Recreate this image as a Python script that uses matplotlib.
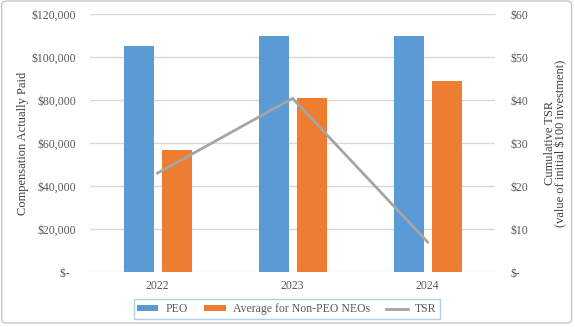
import matplotlib
matplotlib.use("Agg")
import matplotlib.pyplot as plt
from matplotlib.patches import FancyBboxPatch
import numpy as np

years = ["2022", "2023", "2024"]
peo = [105000, 110000, 110000]
neo = [57000, 81000, 89000]
tsr = [23.0, 40.4, 7.0]
left_ticks = [0, 20000, 40000, 60000, 80000, 100000, 120000]
right_ticks = [0, 10, 20, 30, 40, 50, 60]

plt.rcParams['font.family'] = ['Liberation Serif', 'DejaVu Serif']

fig = plt.figure(figsize=(5.75, 3.27), dpi=100)
ax = fig.add_axes([0.1565, 0.168, 0.7045, 0.789])
x = np.arange(len(years))
w = 0.222
ax.bar(x - 0.139, peo, w, color='#5B9BD5', label='PEO', zorder=2)
ax.bar(x + 0.142, neo, w, color='#ED7D31', label='Average for Non-PEO NEOs', zorder=2)
ax.set_xlim(-0.5, 2.5)
ax.set_ylim(0, 120000)
ax.set_yticks(left_ticks)
ax.set_yticklabels(["$-  " if v == 0 else f"${v:,}" for v in left_ticks])
ax.set_xticks(x)
ax.set_xticklabels(years)
ax.grid(axis='y', color='#D9D9D9', lw=1, zorder=0)
for s in ax.spines.values():
    s.set_visible(False)
ax.tick_params(axis='both', length=0, labelsize=8.5, colors='#595959')
ax.tick_params(axis='y', pad=10)
ax.tick_params(axis='x', pad=6)
ax.set_ylabel("Compensation Actually Paid", fontsize=9, color='#404040', labelpad=2)

ax2 = ax.twinx()
ax2.plot(x, tsr, color='#A5A5A5', lw=2.0, label='TSR', zorder=3)
ax2.set_ylim(0, 60)
ax2.set_yticks(right_ticks)
ax2.set_yticklabels(["$-" if v == 0 else f"${v}" for v in right_ticks])
for s in ax2.spines.values():
    s.set_visible(False)
ax2.tick_params(axis='y', length=0, labelsize=8.5, colors='#595959', pad=11)
ax2.set_ylabel("Cumulative TSR\n(value of initial $100 investment)", fontsize=9,
               color='#404040', labelpad=11, linespacing=1.0)

h1, l1 = ax.get_legend_handles_labels()
h2, l2 = ax2.get_legend_handles_labels()
leg = fig.legend(h1 + h2, l1 + l2, loc='center', bbox_to_anchor=(0.4985, 0.055),
                 ncol=3, fontsize=8.5, frameon=True, fancybox=False,
                 edgecolor='#9DC3E6', handlelength=1.8, handleheight=0.35,
                 columnspacing=1.4, handletextpad=0.6, borderpad=0.3,
                 borderaxespad=0)
leg.get_frame().set_linewidth(1.0)
for t in leg.get_texts():
    t.set_color('#595959')

border = FancyBboxPatch((0.003, 0.012), 0.991, 0.985, boxstyle="round,pad=0,rounding_size=0.01",
                        transform=fig.transFigure, fill=False, edgecolor='#C8C8C8', lw=1.0)
fig.patches.append(border)

fig.savefig("out.png", dpi=100)
